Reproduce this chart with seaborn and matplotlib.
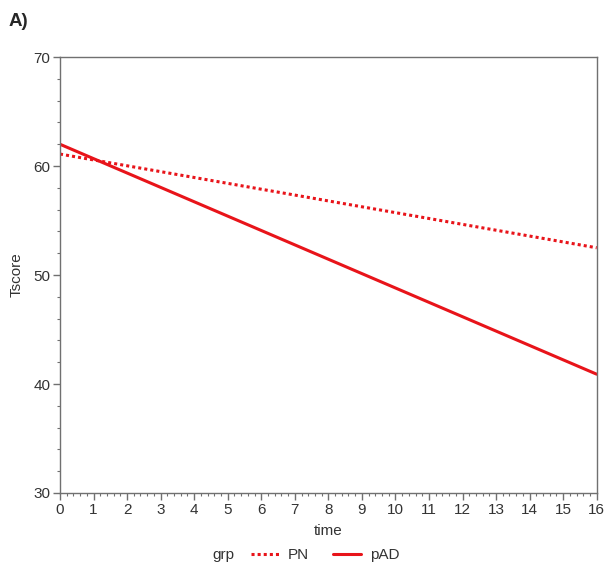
import numpy as np
import pandas as pd
import matplotlib.pyplot as plt
import seaborn as sns
from matplotlib.ticker import MultipleLocator
from matplotlib.lines import Line2D
from matplotlib.offsetbox import HPacker

# fitted lines (start / end points)
time = [0, 16]
pn_score = [61.1, 52.5]
pad_score = [62.0, 40.9]
groups = ["PN", "pAD"]

df = pd.DataFrame({
    "time": time * 2,
    "Tscore": pn_score + pad_score,
    "grp": ["PN"] * len(time) + ["pAD"] * len(time),
})

sns.set_theme(style="white")
plt.rcParams["font.family"] = ["Liberation Sans", "DejaVu Sans"]

fig = plt.figure(figsize=(6.12, 5.77), dpi=100)
ax = fig.add_axes([0.098, 0.1456, 0.877, 0.7555])

red = "#e8141a"
sns.lineplot(data=df, x="time", y="Tscore", hue="grp", style="grp",
             palette={"PN": red, "pAD": red},
             dashes={"PN": (1, 1), "pAD": ""},
             linewidth=2.2, legend=False, ax=ax)

ax.set_xlim(0, 16)
ax.set_ylim(30, 70)
ax.xaxis.set_major_locator(MultipleLocator(1))
ax.xaxis.set_minor_locator(MultipleLocator(0.2))
ax.yaxis.set_major_locator(MultipleLocator(10))
ax.yaxis.set_minor_locator(MultipleLocator(2))

gray = "#707070"
txt = "#333333"
for s in ax.spines.values():
    s.set_color(gray)
    s.set_linewidth(1.0)
ax.tick_params(which="major", direction="out", length=5, width=1, color=gray,
               labelsize=11, labelcolor=txt, pad=2, bottom=True, left=True)
ax.tick_params(which="minor", direction="out", length=2.5, width=0.8, color=gray,
               bottom=True, left=True)
ax.set_xlabel("time", fontsize=11, color=txt, labelpad=5)
ax.set_ylabel("Tscore", fontsize=11, color=txt, labelpad=7)

fig.text(0.014, 0.963, "A)", fontsize=13.5, fontweight="bold", va="center")

handles = [Line2D([], [], color=red, lw=2.2, ls=(0, (1, 1))),
           Line2D([], [], color=red, lw=2.2, ls="-")]
leg = fig.legend(handles, groups, title="grp", loc="center", ncol=2,
                 bbox_to_anchor=(0.5, 0.038), frameon=False, fontsize=11,
                 title_fontsize=11, handlelength=1.8, columnspacing=1.6,
                 handletextpad=0.6)
# title inline with entries, like the original
box = leg._legend_box
box._children = [HPacker(children=box._children, align="center", pad=0, sep=12)]
for t in leg.get_texts():
    t.set_color(txt)
leg.get_title().set_color(txt)

fig.savefig("out.png", dpi=100)
